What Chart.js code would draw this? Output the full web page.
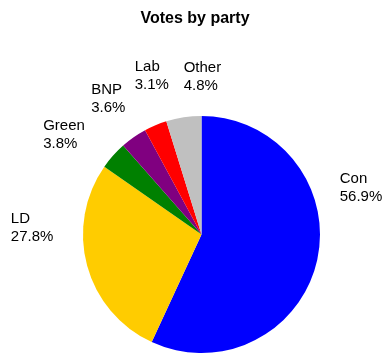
<!DOCTYPE html>
<html>
<head>
<meta charset="utf-8">
<script src="https://cdn.jsdelivr.net/npm/chart.js@4/dist/chart.umd.min.js"></script>
<style>
  html, body { margin: 0; padding: 0; background: #fff; }
  #wrap { width: 386px; height: 354px; }
</style>
</head>
<body>
<div id="wrap"><canvas id="pie"></canvas></div>
<script>
const parties = ["Con", "LD", "Green", "BNP", "Lab", "Other"];
const votes = [56.9, 27.8, 3.8, 3.6, 3.1, 4.8];
const colours = ["#0000ff", "#ffcc00", "#008000", "#800080", "#ff0000", "#c0c0c0"];

// label placement: start from the slice mid-angle just outside the pie,
// then nudge each block a bit the way the original chart tool did
const labelNudge = [[3, -81], [-57, -48], [-55, -12], [-31, -27], [-13, -36], [3, -26]];

const FONT = "'Liberation Sans', Arial, sans-serif";

const labelsPlugin = {
  id: "sliceLabels",
  afterDraw(chart) {
    const ctx = chart.ctx;
    const meta = chart.getDatasetMeta(0);
    const total = votes.reduce((a, b) => a + b, 0);

    ctx.save();
    ctx.fillStyle = "#000";
    ctx.textBaseline = "alphabetic";

    // title
    ctx.font = "bold 16px " + FONT;
    ctx.textAlign = "center";
    ctx.fillText("Votes by party", 195, 23);

    ctx.font = "15px " + FONT;
    ctx.textAlign = "left";
    meta.data.forEach((arc, i) => {
      const p = arc.getProps(["x", "y", "startAngle", "endAngle", "outerRadius"], true);
      const mid = (p.startAngle + p.endAngle) / 2;
      const r = p.outerRadius + 20;
      const x = p.x + Math.cos(mid) * r + labelNudge[i][0];
      const y = p.y + Math.sin(mid) * r + labelNudge[i][1];
      const pct = (votes[i] / total * 100).toFixed(1) + "%";
      ctx.fillText(parties[i], x, y);
      ctx.fillText(pct, x, y + 18);
    });
    ctx.restore();
  }
};

new Chart(document.getElementById("pie"), {
  type: "pie",
  data: {
    labels: parties,
    datasets: [{
      data: votes,
      backgroundColor: colours,
      borderWidth: 0
    }]
  },
  options: {
    responsive: true,
    maintainAspectRatio: false,
    animation: false,
    layout: { padding: { top: 116, bottom: 1, left: 83, right: 66 } },
    plugins: {
      legend: { display: false },
      tooltip: { enabled: false }
    }
  },
  plugins: [labelsPlugin]
});
</script>
</body>
</html>
